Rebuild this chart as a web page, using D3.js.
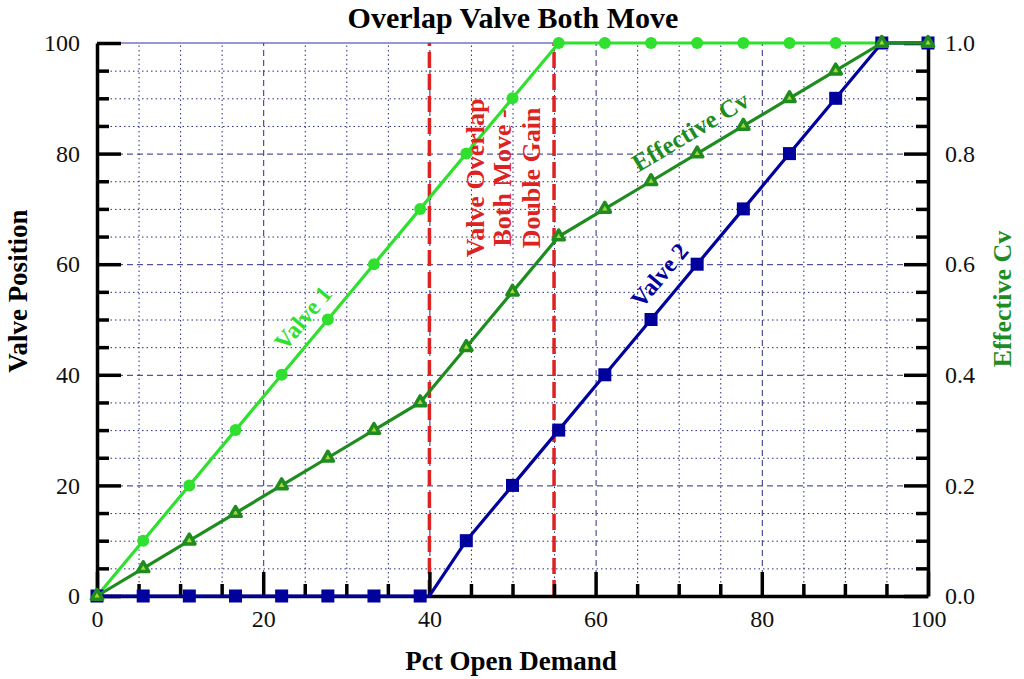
<!DOCTYPE html>
<html>
<head>
<meta charset="utf-8">
<script src="https://d3js.org/d3.v7.min.js"></script>
<style>
	body { margin: 0; background: #fff; }
	svg { display: block; }
	svg text { font-family: "Liberation Serif", "Times New Roman", serif; }
</style>
</head>
<body>
<svg></svg>
<script>
// Pct open demand, sampled every 1/18 of the range
const DEMAND = [0, 5.56, 11.11, 16.67, 22.22, 27.78, 33.33, 38.89, 44.44, 50,
	55.56, 61.11, 66.67, 72.22, 77.78, 83.33, 88.89, 94.44, 100];
const VALVE_1 = [0, 10, 20, 30, 40, 50, 60, 70, 80, 90,
	100, 100, 100, 100, 100, 100, 100, 100, 100];
const VALVE_2 = [0, 0, 0, 0, 0, 0, 0, 0, 10, 20,
	30, 40, 50, 60, 70, 80, 90, 100, 100];
const EFFECTIVE_CV = [0, 0.05, 0.10, 0.15, 0.20, 0.25, 0.30, 0.35, 0.45, 0.55,
	0.65, 0.70, 0.75, 0.80, 0.85, 0.90, 0.95, 1.0, 1.0];
// valve 2 stays shut until demand reaches 40
const VALVE_2_KNEE = [40, 0];
// overlap region (both valves moving)
const OVERLAP = [40, 55];

const X_TICKS = [0, 20, 40, 60, 80, 100];
const Y_TICKS = [0, 20, 40, 60, 80, 100];
const CV_TICKS = [0, 0.2, 0.4, 0.6, 0.8, 1.0];

const w = 1024, h = 679;
const margin = {top: 43, right: 96, bottom: 83, left: 97};

const C_V1 = '#2fe02f';
const C_V2 = '#00009c';
const C_CV = '#1e8c1e';
const C_RED = '#dd2222';
const C_GRID = '#2a2a80';
const SERIF = '"Liberation Serif", "Times New Roman", serif';

const svg = d3.select('svg')
	.attr('width', w)
	.attr('height', h)
	.attr('viewBox', [0, 0, w, h]);

svg.append('rect').attr('width', w).attr('height', h).attr('fill', '#fff');

const x = d3.scaleLinear().domain([0, 100]).range([margin.left, w - margin.right]);
const y = d3.scaleLinear().domain([0, 100]).range([h - margin.bottom, margin.top]);
const yCv = d3.scaleLinear().domain([0, 1]).range([h - margin.bottom, margin.top]);

const plotW = w - margin.left - margin.right;
const plotH = h - margin.top - margin.bottom;

// minor grid (dotted, every 5)
const minor = d3.range(5, 100, 5).filter(v => v % 20 !== 0);
svg.append('g').attr('class', 'grid-minor')
	.attr('transform', `translate(0,${h - margin.bottom})`)
	.call(d3.axisBottom(x).tickValues(minor).tickSize(-plotH).tickFormat(''))
	.call(g => g.select('.domain').remove())
	.call(g => g.selectAll('line').attr('stroke', C_GRID).attr('stroke-width', 1).attr('stroke-dasharray', '1.5,3'));
svg.append('g').attr('class', 'grid-minor')
	.attr('transform', `translate(${margin.left},0)`)
	.call(d3.axisLeft(y).tickValues(minor).tickSize(-plotW).tickFormat(''))
	.call(g => g.select('.domain').remove())
	.call(g => g.selectAll('line').attr('stroke', C_GRID).attr('stroke-width', 1).attr('stroke-dasharray', '1.5,3'));

// major grid (dashed, every 20)
svg.append('g').attr('class', 'grid-major')
	.attr('transform', `translate(0,${h - margin.bottom})`)
	.call(d3.axisBottom(x).tickValues(X_TICKS.slice(1, -1)).tickSize(-plotH).tickFormat(''))
	.call(g => g.select('.domain').remove())
	.call(g => g.selectAll('line').attr('stroke', C_GRID).attr('stroke-width', 1).attr('stroke-dasharray', '6,4'));
svg.append('g').attr('class', 'grid-major')
	.attr('transform', `translate(${margin.left},0)`)
	.call(d3.axisLeft(y).tickValues(Y_TICKS.slice(1, -1)).tickSize(-plotW).tickFormat(''))
	.call(g => g.select('.domain').remove())
	.call(g => g.selectAll('line').attr('stroke', C_GRID).attr('stroke-width', 1).attr('stroke-dasharray', '6,4'));

// top frame line
svg.append('line')
	.attr('x1', x(0)).attr('x2', x(100))
	.attr('y1', y(100)).attr('y2', y(100))
	.attr('stroke', '#3030b0').attr('stroke-width', 1.2);

// overlap markers
svg.selectAll('line.overlap')
	.data(OVERLAP)
	.enter()
	.append('line')
		.classed('overlap', true)
		.attr('x1', d => x(d)).attr('x2', d => x(d))
		.attr('y1', y(0)).attr('y2', y(100))
		.attr('stroke', C_RED)
		.attr('stroke-width', 3.5)
		.attr('stroke-dasharray', '16,6');

// axes: thick black, ticks pointing inward
const styleAxis = g => {
	g.attr('font-family', null);
	g.select('.domain').attr('stroke', '#000').attr('stroke-width', 3.5);
	g.selectAll('.tick line').attr('stroke', '#000').attr('stroke-width', 3.5);
	g.selectAll('.tick text')
		.style('font-family', SERIF)
		.style('font-size', '24px')
		.attr('fill', '#111');
};
const minorTicks = (axis, g) => g.append('g').call(axis)
	.call(a => a.select('.domain').remove())
	.call(a => a.selectAll('.tick line').attr('stroke', '#000').attr('stroke-width', 3.5));

const xAxis = svg.append('g')
	.attr('transform', `translate(0,${h - margin.bottom})`)
	.call(d3.axisBottom(x).tickValues(X_TICKS).tickSizeInner(-24).tickSizeOuter(0).tickPadding(8))
	.call(styleAxis);
xAxis.selectAll('.tick text').attr('dy', '0.95em');
minorTicks(d3.axisBottom(x).tickValues(minor).tickSize(-12).tickFormat(''), xAxis);

const yAxis = svg.append('g')
	.attr('transform', `translate(${margin.left},0)`)
	.call(d3.axisLeft(y).tickValues(Y_TICKS).tickSizeInner(-24).tickSizeOuter(0))
	.call(styleAxis);
yAxis.selectAll('.tick text').attr('x', -17);
minorTicks(d3.axisLeft(y).tickValues(minor).tickSize(-12).tickFormat(''), yAxis);

const cvAxis = svg.append('g')
	.attr('transform', `translate(${w - margin.right},0)`)
	.call(d3.axisRight(yCv).tickValues(CV_TICKS).tickSizeInner(-24).tickSizeOuter(0).tickFormat(d3.format('.1f')))
	.call(styleAxis);
cvAxis.selectAll('.tick text').attr('x', 17);
minorTicks(d3.axisRight(yCv).tickValues(minor.map(v => v / 100)).tickSize(-12).tickFormat(''), cvAxis);

// series
const pts = vals => DEMAND.map((d, i) => [d, vals[i]]);
const v1Pts = pts(VALVE_1);
const v2Pts = pts(VALVE_2);
const cvPts = pts(EFFECTIVE_CV);
const v2Line = v2Pts.filter(p => p[0] < VALVE_2_KNEE[0])
	.concat([VALVE_2_KNEE])
	.concat(v2Pts.filter(p => p[0] > VALVE_2_KNEE[0]));

const line = d3.line().x(p => x(p[0])).y(p => y(p[1]));
const lineCv = d3.line().x(p => x(p[0])).y(p => yCv(p[1]));

svg.append('path').datum(v1Pts)
	.attr('d', line).attr('fill', 'none').attr('stroke', C_V1).attr('stroke-width', 3.2);
svg.selectAll('circle.v1').data(v1Pts).enter().append('circle')
	.classed('v1', true)
	.attr('cx', p => x(p[0])).attr('cy', p => y(p[1])).attr('r', 6)
	.attr('fill', C_V1);

svg.append('path').datum(v2Line)
	.attr('d', line).attr('fill', 'none').attr('stroke', C_V2).attr('stroke-width', 3.2);
svg.selectAll('rect.v2').data(v2Pts).enter().append('rect')
	.classed('v2', true)
	.attr('x', p => x(p[0]) - 6.5).attr('y', p => y(p[1]) - 6.5)
	.attr('width', 13).attr('height', 13)
	.attr('fill', C_V2);

svg.append('path').datum(cvPts)
	.attr('d', lineCv).attr('fill', 'none').attr('stroke', C_CV).attr('stroke-width', 3.2);
svg.selectAll('path.cv').data(cvPts).enter().append('path')
	.classed('cv', true)
	.attr('transform', p => `translate(${x(p[0])},${yCv(p[1])})`)
	.attr('d', d3.symbol().type(d3.symbolTriangle).size(55))
	.attr('fill', '#a6d83c')
	.attr('stroke', C_CV)
	.attr('stroke-width', 3.5)
	.attr('stroke-linejoin', 'round');

// in-plot labels
const label = (txt, px, py, angle, color, size) => svg.append('text')
	.attr('transform', `translate(${px},${py}) rotate(${angle})`)
	.attr('text-anchor', 'middle')
	.attr('dominant-baseline', 'central')
	.attr('font-weight', 'bold')
	.attr('font-size', size)
	.attr('fill', color)
	.text(txt);

label('Valve 1', x(24.8), y(50.3), -50, C_V1, 24);
label('Valve 2', x(67.7), y(58), -50, C_V2, 24);
label('Effective Cv', x(71.4), yCv(0.84), -31, C_CV, 25);

const noteLines = ['Valve Overlap', 'Both Move -', 'Double Gain'];
const noteX = [45.5, 48.8, 52.3];
noteLines.forEach((t, i) => {
	label(t, x(noteX[i]), y(75.6), -90, C_RED, 26);
});

// titles
svg.append('text')
	.attr('x', w / 2 + 1).attr('y', 28)
	.attr('text-anchor', 'middle')
	.attr('font-weight', 'bold').attr('font-size', 30)
	.text('Overlap Valve Both Move');

svg.append('text')
	.attr('x', 511).attr('y', 670)
	.attr('text-anchor', 'middle')
	.attr('font-weight', 'bold').attr('font-size', 27)
	.text('Pct Open Demand');

svg.append('text')
	.attr('transform', 'translate(27,291) rotate(-90)')
	.attr('text-anchor', 'middle')
	.attr('font-weight', 'bold').attr('font-size', 27)
	.text('Valve Position');

svg.append('text')
	.attr('transform', 'translate(1011,299) rotate(-90)')
	.attr('text-anchor', 'middle')
	.attr('font-weight', 'bold').attr('font-size', 26)
	.attr('fill', C_CV)
	.text('Effective Cv');
</script>
</body>
</html>
